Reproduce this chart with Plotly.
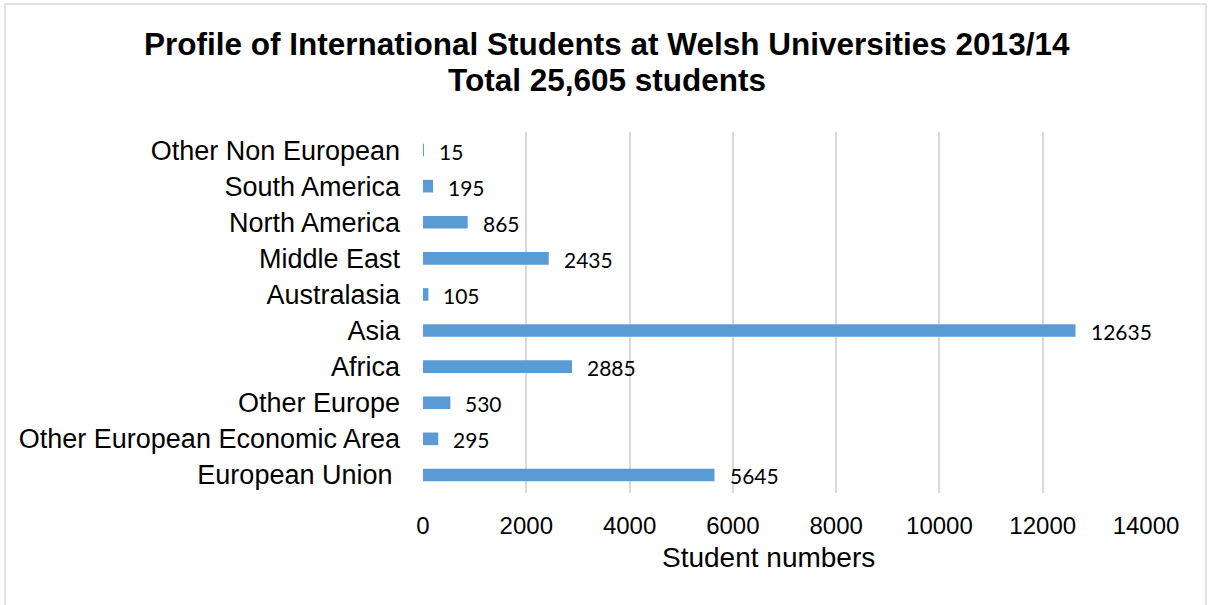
import plotly.graph_objects as go

# Regions of origin, listed bottom to top as they appear on the axis
regions = [
    "European Union\u00a0",
    "Other European Economic Area",
    "Other Europe",
    "Africa",
    "Asia",
    "Australasia",
    "Middle East",
    "North America",
    "South America",
    "Other Non European",
]
students = [5645, 295, 530, 2885, 12635, 105, 2435, 865, 195, 15]

x_ticks = [0, 2000, 4000, 6000, 8000, 10000, 12000, 14000]

title_lines = [
    "Profile of International Students at Welsh Universities 2013/14",
    "Total 25,605 students",
]

BAR_COLOR = "#5B9BD5"
GRID_COLOR = "#D9D9D9"
SANS = "Liberation Sans, Arial, sans-serif"
LABEL_FONT = "Lato, Carlito, Calibri, sans-serif"

# Plot area in pixels, used to place the frame and text in paper units
PLOT_L, PLOT_R, PLOT_T, PLOT_B = 423, 1146, 132, 493
PW, PH = PLOT_R - PLOT_L, PLOT_B - PLOT_T


def px_x(px):
    return (px - PLOT_L) / PW


def px_y(py):
    return (PLOT_B - py) / PH


fig = go.Figure(
    go.Bar(
        x=students,
        y=regions,
        orientation="h",
        marker=dict(color=BAR_COLOR, line=dict(width=0)),
        width=0.35,
        hoverinfo="x+y",
    )
)

# Value labels just past the end of each bar
for region, value in zip(regions, students):
    fig.add_annotation(
        x=value,
        y=region,
        text=str(value),
        showarrow=False,
        xanchor="left",
        xshift=13,
        yshift=-1,
        font=dict(family=LABEL_FONT, size=21, color="#000000"),
    )

# Two-line bold title
for line, centre_y in zip(title_lines, [44, 80]):
    fig.add_annotation(
        xref="paper",
        yref="paper",
        x=px_x(607),
        y=px_y(centre_y),
        text=f"<b>{line}</b>",
        showarrow=False,
        xanchor="center",
        yanchor="middle",
        font=dict(family=SANS, size=31.5, color="#000000"),
    )

# Axis title placed under the tick labels
fig.add_annotation(
    xref="paper",
    yref="paper",
    x=px_x(768),
    y=px_y(557),
    text="Student numbers",
    showarrow=False,
    xanchor="center",
    yanchor="middle",
    font=dict(family=SANS, size=28, color="#000000"),
)

# Light frame round the whole chart
fig.add_shape(
    type="rect",
    xref="paper",
    yref="paper",
    x0=px_x(5),
    x1=px_x(1206),
    y0=px_y(640),
    y1=px_y(4),
    line=dict(color=GRID_COLOR, width=1.5),
    fillcolor="rgba(0,0,0,0)",
    layer="below",
)

fig.update_layout(
    width=1208,
    height=605,
    margin=dict(l=PLOT_L, r=1208 - PLOT_R, t=PLOT_T, b=605 - PLOT_B),
    paper_bgcolor="#FFFFFF",
    plot_bgcolor="#FFFFFF",
    showlegend=False,
    xaxis=dict(
        range=[0, 14000],
        tickvals=x_ticks,
        ticktext=[str(v) for v in x_ticks],
        showgrid=True,
        gridcolor=GRID_COLOR,
        gridwidth=1.5,
        zeroline=False,
        showline=False,
        ticks="",
        ticklabelstandoff=16,
        tickfont=dict(family=SANS, size=24, color="#000000"),
    ),
    yaxis=dict(
        categoryorder="array",
        categoryarray=regions,
        showgrid=False,
        zeroline=False,
        showline=False,
        ticks="",
        ticklabelstandoff=22,
        tickfont=dict(family=SANS, size=27, color="#000000"),
    ),
)

fig.write_html("out.html")
